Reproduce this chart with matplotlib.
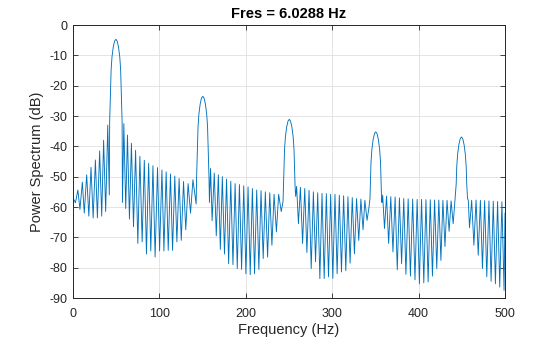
import numpy as np
import pandas as pd
import matplotlib
matplotlib.use("Agg")
import matplotlib.pyplot as plt

# ----------------------------------------
# DATA
# ----------------------------------------

# sidelobe maxima of the leakage comb
top_hz = [0.0, 5.6, 10.8, 15.8, 20.8, 25.9, 30.8, 35.4, 40.2,
          58.8, 63.0, 67.6, 72.4, 77.4, 82.5, 87.5, 92.5, 97.8, 102.9,
          107.8, 112.8, 117.8, 122.8, 127.9, 133.2, 138.8,
          159.2, 163.5, 168.2, 172.8, 177.7, 182.6, 187.6, 192.6, 197.6,
          202.6, 207.6, 212.6, 217.6, 222.6, 227.7, 232.7, 238.0,
          258.8, 263.2, 268.2, 273.2, 278.2, 283.2, 288.2, 293.2, 298.2,
          303.2, 308.2, 313.2, 318.2, 323.2, 328.2, 333.2, 337.8,
          358.4, 362.9, 367.8, 372.8, 377.8, 382.8, 387.9, 393.1, 398.3,
          403.4, 408.5, 413.5, 418.5, 423.4, 428.1, 432.9, 437.6,
          461.4, 466.5, 471.5, 476.4, 481.4, 486.4, 491.4, 496.4, 500.0]
top_db = [-57.0, -54.4, -51.8, -49.4, -46.9, -44.5, -41.5, -38.0, -33.0,
          -32.5, -36.3, -39.0, -41.3, -43.3, -44.6, -45.6, -46.4, -47.0, -47.8,
          -48.4, -49.1, -49.8, -50.6, -51.6, -52.3, -51.0,
          -47.3, -48.8, -49.4, -50.0, -50.8, -51.5, -52.3, -52.6, -53.0,
          -53.4, -53.9, -54.4, -54.6, -55.0, -55.3, -55.8, -55.8,
          -53.2, -53.5, -53.9, -54.5, -55.0, -55.3, -55.5, -55.6, -55.8,
          -55.8, -56.1, -56.3, -56.6, -56.9, -57.2, -57.4, -57.8,
          -56.1, -56.4, -56.6, -56.7, -57.0, -57.2, -57.3, -57.4, -57.5,
          -57.5, -57.6, -57.6, -57.7, -57.7, -57.8, -57.8, -58.0,
          -57.8, -57.7, -57.8, -57.9, -58.0, -58.1, -58.2, -58.3, -62.0]

# nulls of the leakage comb
null_hz = [2.8, 8.0, 13.0, 18.3, 23.3, 28.2, 33.2, 37.8, 42.0,
           57.2, 61.0, 65.3, 70.0, 75.0, 80.0, 85.0, 90.0, 95.0, 100.2,
           105.2, 110.2, 115.2, 120.2, 125.3, 130.5, 136.0, 142.5,
           157.9, 161.0, 165.8, 170.5, 175.3, 180.1, 185.1, 190.1, 195.1,
           200.1, 205.1, 210.1, 215.1, 220.1, 225.2, 230.2, 235.4, 241.0,
           257.7, 260.9, 265.7, 270.7, 275.7, 280.7, 285.7, 290.7, 295.7,
           300.7, 305.7, 310.7, 315.7, 320.7, 325.7, 330.7, 335.7, 340.3,
           357.6, 360.5, 365.3, 370.3, 375.3, 380.3, 385.3, 390.5, 395.8,
           400.9, 406.0, 411.0, 416.0, 421.0, 425.8, 430.5, 435.3, 440.0,
           458.9, 464.0, 469.0, 473.9, 478.9, 483.9, 488.9, 493.9, 498.9]
null_db = [-58.6, -60.8, -62.0, -63.0, -63.6, -63.6, -63.0, -61.5, -56.0,
           -58.5, -60.5, -64.0, -66.5, -72.0, -71.5, -75.5, -74.5, -76.5, -74.5,
           -74.5, -74.3, -74.3, -71.5, -71.0, -67.5, -62.0, -59.0,
           -58.5, -64.5, -69.5, -74.0, -75.5, -78.7, -79.0, -80.3, -80.6,
           -82.0, -82.3, -82.0, -80.6, -77.0, -76.5, -72.6, -68.2, -61.5,
           -56.5, -65.5, -72.0, -75.0, -80.3, -78.0, -83.6, -83.6, -83.0,
           -83.5, -82.0, -81.4, -81.0, -78.5, -75.4, -71.0, -67.5, -64.4,
           -58.5, -67.1, -72.0, -74.8, -80.7, -78.7, -82.2, -82.8, -84.0,
           -85.3, -85.0, -84.7, -82.8, -80.3, -77.6, -73.0, -68.0, -65.5,
           -66.8, -72.6, -75.9, -80.3, -83.0, -84.5, -85.3, -86.4, -87.5]

# main lobes of the five harmonics (50, 150, 250, 350, 450 Hz)
lobe_hz = [42.4, 42.9, 43.5, 44.1, 45.1, 46.6, 48.1, 49.6, 51.1, 52.6, 54.1, 55.1, 55.7, 56.3, 56.8,
           143.0, 143.5, 144.1, 144.7, 145.7, 147.2, 148.7, 150.2, 151.7, 153.2, 154.7, 155.7, 156.3, 156.9, 157.4,
           243.1, 243.6, 244.2, 244.8, 245.8, 247.3, 248.8, 250.3, 251.8, 253.3, 254.8, 255.8, 256.4, 257.0,
           342.6, 343.7, 344.3, 344.9, 345.9, 347.4, 348.9, 350.4, 351.9, 353.4, 354.9, 355.9, 356.5, 357.1,
           442.3, 443.5, 444.1, 445.1, 446.6, 448.1, 449.6, 451.1, 452.6, 454.1, 455.1, 455.7, 456.6, 457.5]
lobe_db = [-31.7, -26.7, -20.2, -14.7, -10.5, -7.2, -5.3, -4.7, -5.3, -7.2, -10.5, -14.7, -20.2, -26.7, -31.7,
           -50.5, -45.5, -39.0, -33.5, -29.3, -26.0, -24.1, -23.5, -24.1, -26.0, -29.3, -33.5, -39.0, -45.5, -50.5,
           -58.1, -53.1, -46.6, -41.1, -36.9, -33.6, -31.7, -31.1, -31.7, -33.6, -36.9, -41.1, -46.6, -53.1,
           -60.0, -57.2, -50.7, -45.2, -41.0, -37.7, -35.8, -35.2, -35.8, -37.7, -41.0, -45.2, -50.7, -57.2,
           -57.0, -52.4, -46.9, -42.7, -39.4, -37.5, -36.9, -37.5, -39.4, -42.7, -46.9, -52.4, -57.2, -57.8]

fres_hz = 6.0288

# ----------------------------------------
# BUILD THE TRACE
# ----------------------------------------

spec = pd.DataFrame({
    "freq": top_hz + null_hz + lobe_hz,
    "db": top_db + null_db + lobe_db,
}).sort_values("freq")

# ----------------------------------------
# PLOT (MATLAB look)
# ----------------------------------------

plt.rcParams["font.family"] = ["Liberation Sans", "DejaVu Sans"]
plt.rcParams["axes.unicode_minus"] = False

fig = plt.figure(figsize=(5.6, 3.37), dpi=100)
ax = fig.add_axes([0.1304, 0.1157, 0.7714, 0.8101])

ax.plot(spec["freq"], spec["db"], color="#0072BD", linewidth=0.65)

ax.set_xlim(0, 500)
ax.set_ylim(-90, 0)
ax.set_xticks(range(0, 501, 100))
ax.set_yticks(range(-90, 1, 10))
ax.grid(True, color="#dfdfdf", linewidth=0.6)
ax.set_axisbelow(True)
ax.tick_params(direction="in", length=3.5, width=0.6, labelsize=9,
               colors="#262626", top=True, right=True)
ax.tick_params(axis="x", pad=7)
ax.tick_params(axis="y", pad=4)
for sp in ax.spines.values():
    sp.set_color("#262626")
    sp.set_linewidth(0.7)

ax.set_title(f"Fres = {fres_hz} Hz", fontsize=10.5, fontweight="bold",
             color="#000000", pad=5)
ax.set_xlabel("Frequency (Hz)", fontsize=10.5, color="#262626", labelpad=2)
ax.set_ylabel("Power Spectrum (dB)", fontsize=10.5, color="#262626", labelpad=4)

fig.savefig("out.png", dpi=100)
